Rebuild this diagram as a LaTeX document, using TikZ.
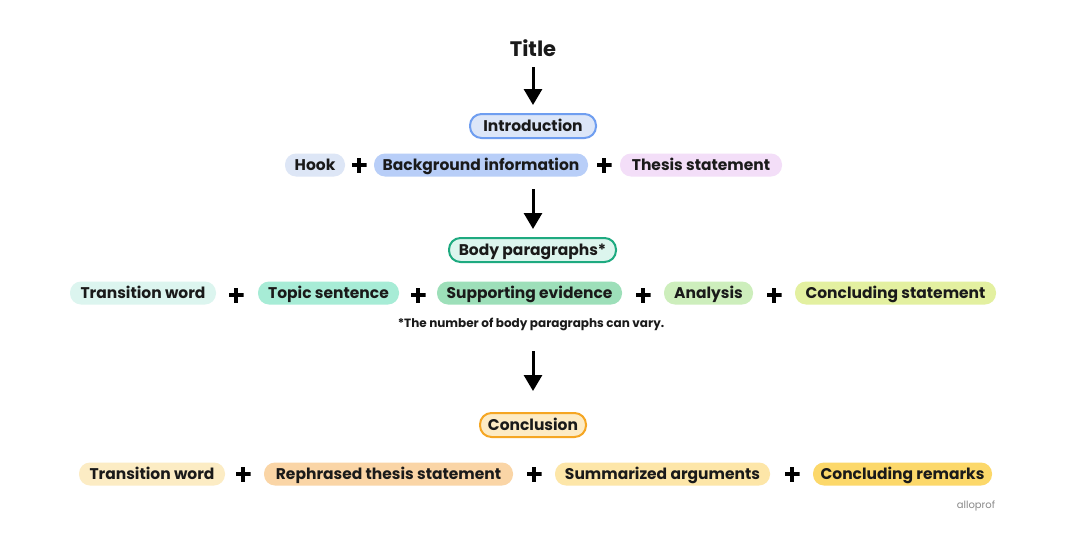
\documentclass[tikz,border=0pt]{standalone}
\usepackage{fontspec}
\setmainfont{Poppins}
\usetikzlibrary{arrows.meta}
\definecolor{ink}{HTML}{1A1A1A}
\definecolor{introF}{HTML}{DCE6F8}
\definecolor{introD}{HTML}{6F9EF0}
\definecolor{hookF}{HTML}{DDE6F6}
\definecolor{bgF}{HTML}{B8CEF8}
\definecolor{thesisF}{HTML}{F3DEF8}
\definecolor{bodyF}{HTML}{DCF5EE}
\definecolor{bodyD}{HTML}{1EAA80}
\definecolor{twF}{HTML}{DCF5EF}
\definecolor{topicF}{HTML}{A7ECD6}
\definecolor{suppF}{HTML}{9DDFB9}
\definecolor{anaF}{HTML}{CDEEBC}
\definecolor{cstF}{HTML}{E3F0A0}
\definecolor{conclF}{HTML}{FDEBC4}
\definecolor{conclD}{HTML}{F5A623}
\definecolor{tw2F}{HTML}{FCECC4}
\definecolor{rephF}{HTML}{FAD5A6}
\definecolor{summF}{HTML}{FDE6A8}
\definecolor{remF}{HTML}{FCD86A}
\definecolor{logo}{HTML}{8A8A8A}
\begin{document}
\begin{tikzpicture}[x=1pt,y=-1pt,
  pill/.style={rounded corners=11pt, minimum height=23pt, inner sep=0pt,
    text height=11pt, text depth=0.5pt,
    font=\fontsize{15.5}{16}\selectfont\bfseries, text=ink},
  headbox/.style={pill, draw, line width=2pt, minimum height=24pt, rounded corners=11.5pt},
  plus/.style={minimum size=15pt, inner sep=0pt, path picture={
    \fill[black] ([xshift=-7.5pt,yshift=-2.1pt]path picture bounding box.center) rectangle ++(15pt,4.2pt);
    \fill[black] ([xshift=-2.1pt,yshift=-7.5pt]path picture bounding box.center) rectangle ++(4.2pt,15pt);}},
  arr/.style={-{Triangle[width=18pt,length=16pt]}, line width=3pt, black}]
\useasboundingbox (0,0) rectangle (1088,549);
\fill[white] (0,0) rectangle (1088,549);

\node[font=\fontsize{21}{22}\selectfont\bfseries, text=ink] (title) at (533,48) {Title};
\node[headbox, fill=introF, draw=introD, minimum width=126pt] (intro) at (533,126) {Introduction};
\coordinate (a1s) at (533,67);
\coordinate (a1e) at (533,105);
\draw[arr] (a1s) -- (a1e);

\node[pill, fill=hookF, minimum width=60pt] (hook) at (315,165) {Hook};
\node[plus] (p1) at (359,165) {};
\node[pill, fill=bgF, minimum width=214pt] (bg) at (481,165) {Background information};
\node[plus] (p2) at (604,165) {};
\node[pill, fill=thesisF, minimum width=162pt] (thesis) at (701,165) {Thesis statement};

\coordinate (a2s) at (533,189);
\coordinate (a2e) at (533,229);
\draw[arr] (a2s) -- (a2e);

\node[headbox, fill=bodyF, draw=bodyD, minimum width=167pt] (body) at (532.5,250) {Body paragraphs*};

\node[pill, fill=twF, minimum width=146pt] (tw) at (143,293) {Transition word};
\node[plus] (p3) at (236,295) {};
\node[pill, fill=topicF, minimum width=141pt] (topic) at (328.5,293) {Topic sentence};
\node[plus] (p4) at (418,295) {};
\node[pill, fill=suppF, minimum width=185pt] (supp) at (529.5,293) {Supporting evidence};
\node[plus] (p5) at (643,295) {};
\node[pill, fill=anaF, minimum width=89pt] (ana) at (708.5,293) {Analysis};
\node[plus] (p6) at (774,295) {};
\node[pill, fill=cstF, minimum width=201pt] (cst) at (895.5,293) {Concluding statement};

\node[font=\fontsize{12}{13}\selectfont\bfseries, text=ink] (note) at (531,324) {*The number of body paragraphs can vary.};

\coordinate (a3s) at (533,351);
\coordinate (a3e) at (533,391);
\draw[arr] (a3s) -- (a3e);

\node[headbox, fill=conclF, draw=conclD, minimum width=106pt] (concl) at (533,425) {Conclusion};

\node[pill, fill=tw2F, minimum width=146pt] (tw2) at (152,474) {Transition word};
\node[plus] (p7) at (243,474) {};
\node[pill, fill=rephF, minimum width=249pt] (reph) at (388.5,474) {Rephrased thesis statement};
\node[plus] (p8) at (534,474) {};
\node[pill, fill=summF, minimum width=215pt] (summ) at (662.5,474) {Summarized arguments};
\node[plus] (p9) at (792,474) {};
\node[pill, fill=remF, minimum width=179pt] (rem) at (902.5,474) {Concluding remarks};

\node[font=\fontsize{10}{10}\selectfont, text=logo] (logo) at (976,506) {alloprof};
\end{tikzpicture}
\end{document}
